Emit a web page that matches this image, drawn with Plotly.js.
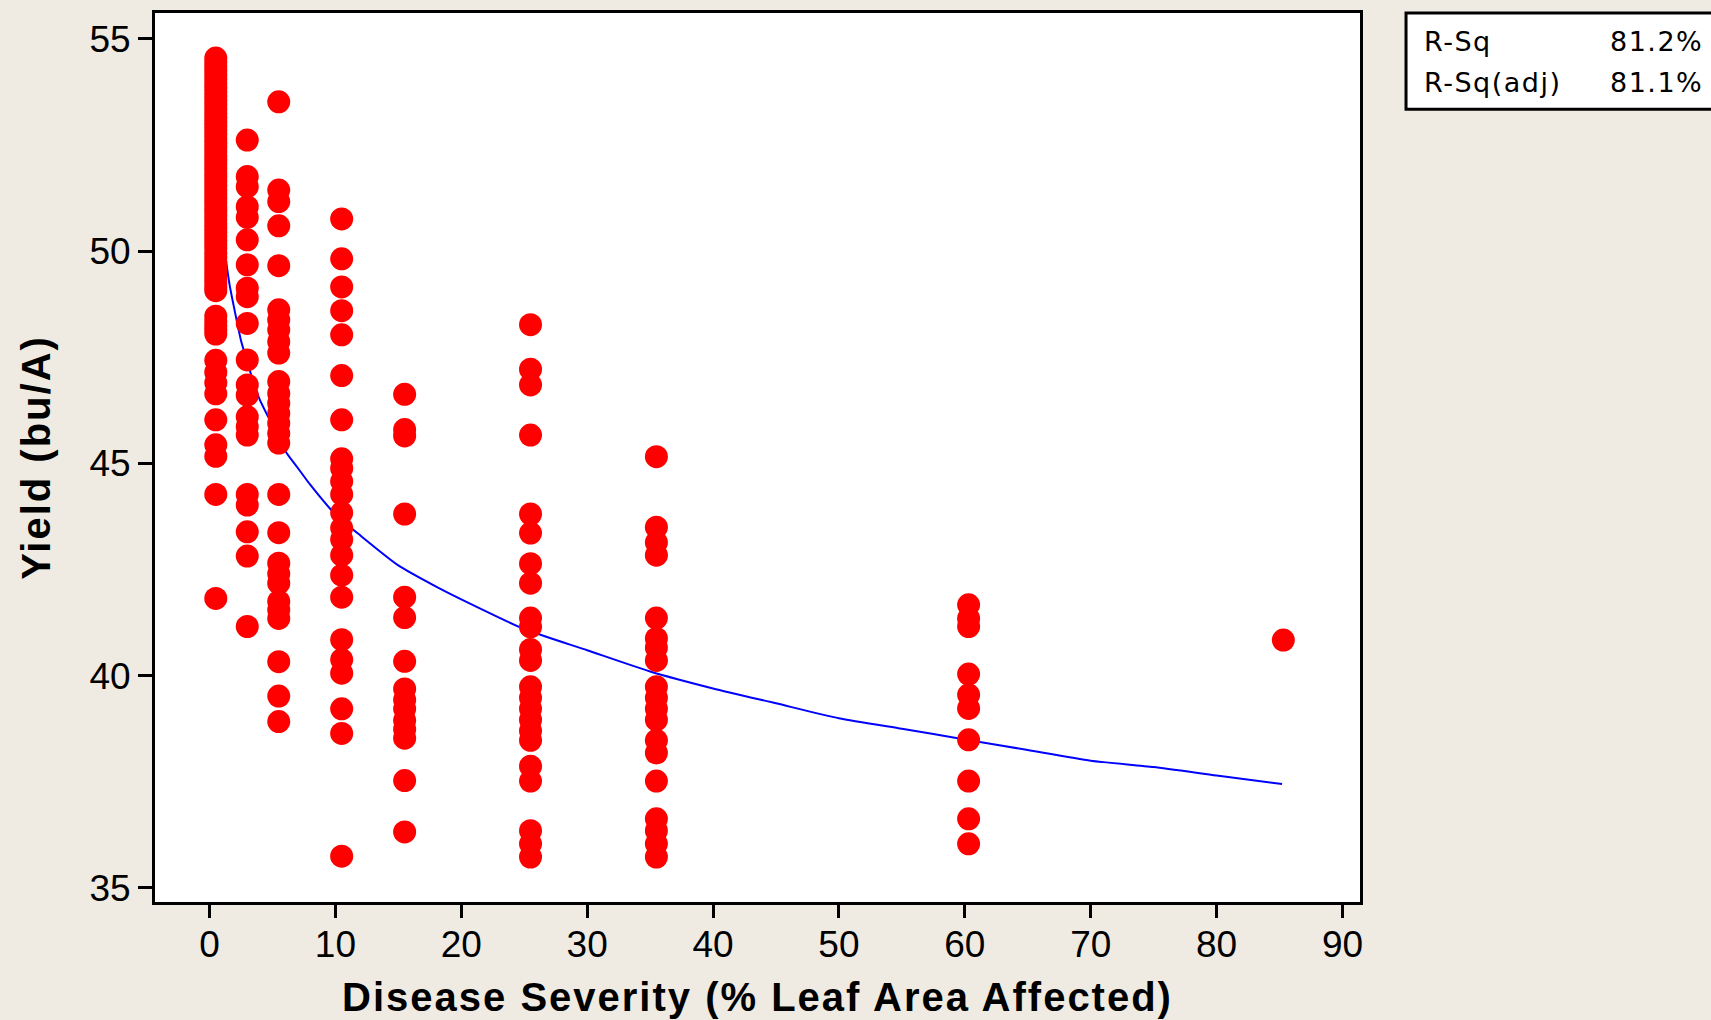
<!DOCTYPE html>
<html>
<head>
<meta charset="utf-8">
<script src="https://cdn.plot.ly/plotly-3.0.1.min.js"></script>
<style>
  html, body { margin: 0; padding: 0; background: #EFEBE2; }
  #chart { width: 1711px; height: 1020px; }
  .xtitle, .ytitle { letter-spacing: 2px; }
  .annotation-text { letter-spacing: 1.5px; }
</style>
</head>
<body>
<div id="chart"></div>
<script>
// Disease severity levels (% leaf area affected)
const severity = [0.5, 3, 5.5, 10.5, 15.5, 25.5, 35.5, 60.3, 85.3];

// Yield (bu/A) observed at each severity level
const yieldSev0_5 = [54.55, 54.45, 54.35, 54.25, 54.15, 54.05, 53.95, 53.85, 53.75, 53.65,
  53.55, 53.45, 53.35, 53.25, 53.15, 53.05, 52.95, 52.85, 52.75, 52.65, 52.55, 52.45,
  52.35, 52.25, 52.15, 52.05, 51.95, 51.85, 51.75, 51.65, 51.55, 51.45, 51.35, 51.25,
  51.15, 51.05, 50.95, 50.85, 50.75, 50.65, 50.55, 50.45, 50.35, 50.25, 50.15, 50.05,
  49.95, 49.85, 49.75, 49.65, 49.55, 49.45, 49.35, 49.25, 49.15, 49.07, 48.47, 48.35,
  48.25, 48.15, 48.05, 47.43, 47.15, 46.9, 46.64, 46.03, 45.44, 45.17, 44.27, 41.82];
const yieldSev3 = [52.62, 51.76, 51.52, 51.05, 50.8, 50.27, 49.68, 49.13, 48.93, 48.3,
  47.44, 46.85, 46.61, 46.1, 45.87, 45.67, 44.27, 44.02, 43.39, 42.82, 41.16];
const yieldSev5_5 = [53.52, 51.44, 51.17, 50.6, 49.66, 48.62, 48.38, 48.15, 47.87, 47.6,
  46.93, 46.65, 46.42, 46.18, 45.95, 45.71, 45.48, 44.27, 43.37, 42.65, 42.4, 42.18,
  41.75, 41.55, 41.35, 40.33, 39.52, 38.92];
const yieldSev10_5 = [50.76, 49.82, 49.16, 48.6, 48.03, 47.07, 46.03, 45.11, 44.89, 44.58,
  44.27, 43.84, 43.48, 43.21, 42.84, 42.37, 41.85, 40.85, 40.38, 40.06, 39.22, 38.64, 35.75];
const yieldSev15_5 = [46.63, 45.8, 45.65, 43.81, 41.85, 41.37, 40.34, 39.69, 39.43, 39.22,
  38.95, 38.74, 38.53, 37.53, 36.32];
const yieldSev25_5 = [48.27, 47.22, 46.85, 45.67, 43.81, 43.36, 42.64, 42.18, 41.36, 41.15,
  40.62, 40.36, 39.74, 39.48, 39.22, 38.96, 38.7, 38.48, 37.87, 37.52, 36.35, 36.04, 35.73];
const yieldSev35_5 = [45.16, 43.5, 43.14, 42.84, 41.36, 40.88, 40.66, 40.36, 39.74, 39.48,
  39.22, 38.96, 38.48, 38.18, 37.52, 36.63, 36.35, 36.04, 35.73];
const yieldSev60 = [41.67, 41.35, 41.16, 40.04, 39.55, 39.23, 38.49, 37.52, 36.63, 36.04];
const yieldSev85 = [40.84];

// Fitted curve
const fitX = [1.3, 1.6, 2, 2.5, 3, 3.5, 4, 5, 6, 7, 8, 10, 12, 15, 18, 20, 25, 30, 35, 40,
  45, 50, 55, 60, 65, 70, 75, 80, 85.2];
const fitY = [49.8, 49.2, 48.6, 47.9, 47.4, 46.9, 46.5, 45.9, 45.3, 44.9, 44.5, 43.8, 43.3,
  42.6, 42.1, 41.8, 41.1, 40.6, 40.1, 39.7, 39.35, 39.0, 38.75, 38.5, 38.25, 38.0, 37.85,
  37.65, 37.45];

// Summary statistics
const statLabels = ["R-Sq", "R-Sq(adj)"];
const statValues = ["81.2%", "81.1%"];

// Axis ticks
const xTicks = [0, 10, 20, 30, 40, 50, 60, 70, 80, 90];
const yTicks = [35, 40, 45, 50, 55];

const groups = [yieldSev0_5, yieldSev3, yieldSev5_5, yieldSev10_5, yieldSev15_5,
  yieldSev25_5, yieldSev35_5, yieldSev60, yieldSev85];
const ptsX = [], ptsY = [];
groups.forEach((g, i) => g.forEach(v => { ptsX.push(severity[i]); ptsY.push(v); }));

const traces = [
  {
    x: fitX, y: fitY, type: 'scatter', mode: 'lines',
    line: { color: '#0000FF', width: 2, shape: 'spline', smoothing: 0.6 }, hoverinfo: 'skip'
  },
  {
    x: ptsX, y: ptsY, type: 'scatter', mode: 'markers',
    marker: { color: '#FF0000', size: 23, line: { width: 0 } }
  }
];

const annotations = [];
const rowY = [0.9685, 0.9213];
statLabels.forEach((t, i) => {
  annotations.push({
    xref: 'paper', yref: 'paper', x: 1.0515, y: rowY[i],
    xanchor: 'left', yanchor: 'middle', text: t, showarrow: false,
    font: { family: 'DejaVu Sans, Verdana, sans-serif', size: 27, color: '#000' }
  });
  annotations.push({
    xref: 'paper', yref: 'paper', x: 1.2865, y: rowY[i],
    xanchor: 'right', yanchor: 'middle', text: statValues[i], showarrow: false,
    font: { family: 'DejaVu Sans, Verdana, sans-serif', size: 27, color: '#000' }
  });
});

const layout = {
  width: 1711, height: 1020,
  paper_bgcolor: '#EFEBE2', plot_bgcolor: '#FFFFFF',
  margin: { l: 155, r: 351, t: 13, b: 118, autoexpand: false },
  showlegend: false,
  xaxis: {
    range: [-4.329, 91.39], tickvals: xTicks, ticktext: xTicks.map(String),
    ticks: 'outside', ticklen: 13, tickwidth: 3, tickcolor: '#000',
    ticklabelstandoff: -5,
    showline: true, linewidth: 3, linecolor: '#000', mirror: true,
    showgrid: false, zeroline: false, automargin: false,
    tickfont: { family: 'Liberation Sans, Arial, sans-serif', size: 37, color: '#000' },
    title: { text: 'Disease Severity (% Leaf Area Affected)', standoff: 19,
      font: { family: 'Liberation Sans, Arial, sans-serif', size: 40, color: '#000', weight: 'bold' } }
  },
  yaxis: {
    range: [34.670, 55.612], tickvals: yTicks, ticktext: yTicks.map(String),
    ticks: 'outside', ticklen: 14, tickwidth: 3, tickcolor: '#000',
    showline: true, linewidth: 3, linecolor: '#000', mirror: true,
    showgrid: false, zeroline: false, automargin: false,
    tickfont: { family: 'Liberation Sans, Arial, sans-serif', size: 37, color: '#000' },
    title: { text: 'Yield (bu/A)', standoff: 27,
      font: { family: 'Liberation Sans, Arial, sans-serif', size: 40, color: '#000', weight: 'bold' } }
  },
  shapes: [{
    type: 'rect', xref: 'paper', yref: 'paper',
    x0: 1.0382, x1: 1.32, y0: 0.8917, y1: 1.0,
    line: { color: '#000', width: 3 }, fillcolor: '#FFFFFF', layer: 'below'
  }],
  annotations: annotations
};

Plotly.newPlot('chart', traces, layout, { displayModeBar: false, staticPlot: true });
</script>
</body>
</html>
